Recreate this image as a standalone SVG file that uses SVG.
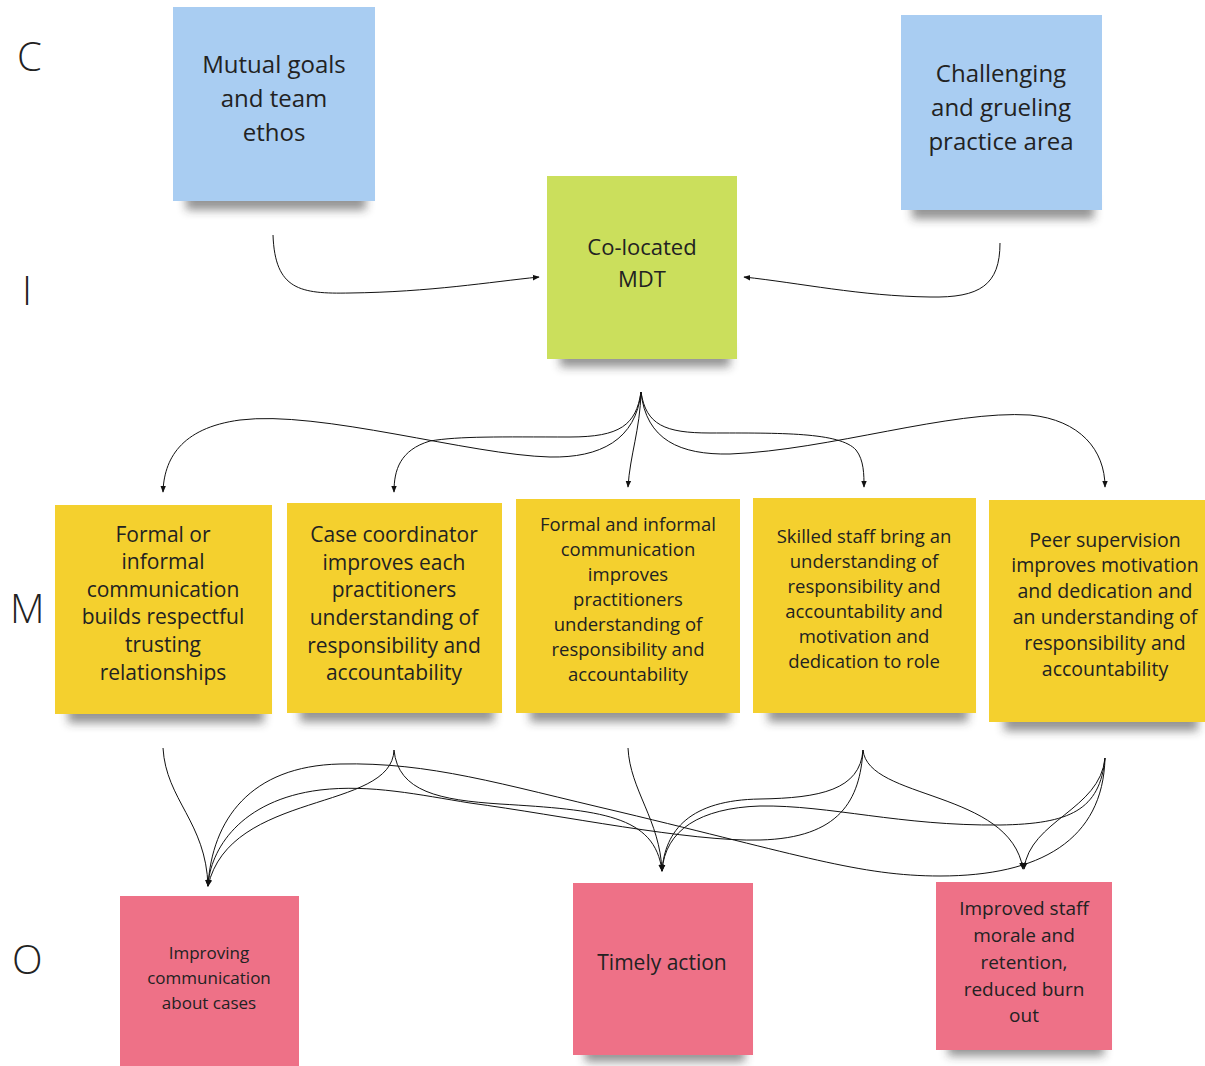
<svg xmlns="http://www.w3.org/2000/svg" width="1205" height="1066" viewBox="0 0 1205 1066">
  <style>
    .lbl { font-family: "Open Sans", "DejaVu Sans", sans-serif; fill: #222; text-anchor: middle; }
    .row { font-family: "Open Sans", "DejaVu Sans", sans-serif; fill: #222; font-size: 40px; font-weight: 300; }
    .blue { fill: #a9cdf2; }
    .green { fill: #cbdf5c; }
    .yellow { fill: #f4d02e; }
    .pink { fill: #ee7187; }
    .shadow { fill: #2a2a2a; opacity: 0.5; filter: url(#soft); }
    .wire { fill: none; stroke: #111; stroke-width: 1; marker-end: url(#tip); }
  </style>
  <defs>
    <filter id="soft" x="-20%" y="-100%" width="140%" height="300%">
      <feGaussianBlur stdDeviation="5"/>
    </filter>
    <marker id="tip" viewBox="0 0 10 10" refX="9" refY="5" markerWidth="7" markerHeight="7" orient="auto" markerUnits="userSpaceOnUse">
      <path d="M0,1 L10,5 L0,9 z" fill="#111"/>
    </marker>
  </defs>

  <rect width="1205" height="1066" fill="#ffffff"/>

  <!-- row letters -->
  <text class="row" x="17" y="71">C</text>
  <text class="row" x="22" y="305">I</text>
  <text class="row" x="10" y="623">M</text>
  <text class="row" x="12" y="974">O</text>

  <!-- context -->
  <g id="mutual-goals">
    <rect class="shadow" x="186" y="186" width="180" height="24"/>
    <rect class="blue" x="173" y="7" width="202" height="194"/>
    <text class="lbl" font-size="24"><tspan x="274" y="73">Mutual goals</tspan><tspan x="274" y="107">and team</tspan><tspan x="274" y="141">ethos</tspan></text>
  </g>
  <g id="challenging-area">
    <rect class="shadow" x="912" y="195" width="182" height="24"/>
    <rect class="blue" x="901" y="15" width="201" height="195"/>
    <text class="lbl" font-size="24"><tspan x="1001" y="82">Challenging</tspan><tspan x="1001" y="116">and grueling</tspan><tspan x="1001" y="150">practice area</tspan></text>
  </g>

  <!-- intervention -->
  <g id="co-located-mdt">
    <rect class="shadow" x="560" y="343" width="170" height="24"/>
    <rect class="green" x="547" y="176" width="190" height="183"/>
    <text class="lbl" font-size="22"><tspan x="642" y="255">Co-located</tspan><tspan x="642" y="287">MDT</tspan></text>
  </g>

  <!-- mechanisms -->
  <g id="m-trusting-relationships">
    <rect class="shadow" x="68" y="699" width="196" height="24"/>
    <rect class="yellow" x="55" y="505" width="217" height="209"/>
    <text class="lbl" font-size="21"><tspan x="163" y="542">Formal or</tspan><tspan x="163" y="569">informal</tspan><tspan x="163" y="597">communication</tspan><tspan x="163" y="624">builds respectful</tspan><tspan x="163" y="652">trusting</tspan><tspan x="163" y="680">relationships</tspan></text>
  </g>
  <g id="m-case-coordinator">
    <rect class="shadow" x="300" y="698" width="194" height="24"/>
    <rect class="yellow" x="287" y="503" width="215" height="210"/>
    <text class="lbl" font-size="21"><tspan x="394" y="542">Case coordinator</tspan><tspan x="394" y="570">improves each</tspan><tspan x="394" y="597">practitioners</tspan><tspan x="394" y="625">understanding of</tspan><tspan x="394" y="653">responsibility and</tspan><tspan x="394" y="680">accountability</tspan></text>
  </g>
  <g id="m-formal-informal">
    <rect class="shadow" x="530" y="698" width="200" height="24"/>
    <rect class="yellow" x="516" y="499" width="224" height="214"/>
    <text class="lbl" font-size="18.5"><tspan x="628" y="531">Formal and informal</tspan><tspan x="628" y="556">communication</tspan><tspan x="628" y="581">improves</tspan><tspan x="628" y="606">practitioners</tspan><tspan x="628" y="631">understanding of</tspan><tspan x="628" y="656">responsibility and</tspan><tspan x="628" y="681">accountability</tspan></text>
  </g>
  <g id="m-skilled-staff">
    <rect class="shadow" x="768" y="698" width="200" height="24"/>
    <rect class="yellow" x="753" y="498" width="223" height="215"/>
    <text class="lbl" font-size="18.5"><tspan x="864" y="543">Skilled staff bring an</tspan><tspan x="864" y="568">understanding of</tspan><tspan x="864" y="593">responsibility and</tspan><tspan x="864" y="618">accountability and</tspan><tspan x="864" y="643">motivation and</tspan><tspan x="864" y="668">dedication to role</tspan></text>
  </g>
  <g id="m-peer-supervision">
    <rect class="shadow" x="1004" y="707" width="194" height="24"/>
    <rect class="yellow" x="989" y="500" width="216" height="222"/>
    <text class="lbl" font-size="19.5"><tspan x="1105" y="547">Peer supervision</tspan><tspan x="1105" y="572">improves motivation</tspan><tspan x="1105" y="598">and dedication and</tspan><tspan x="1105" y="624">an understanding of</tspan><tspan x="1105" y="650">responsibility and</tspan><tspan x="1105" y="676">accountability</tspan></text>
  </g>

  <!-- outcomes -->
  <g id="o-communication">
    <rect class="pink" x="120" y="896" width="179" height="175"/>
    <text class="lbl" font-size="17"><tspan x="209" y="959">Improving</tspan><tspan x="209" y="984">communication</tspan><tspan x="209" y="1009">about cases</tspan></text>
  </g>
  <g id="o-timely-action">
    <rect class="shadow" x="585" y="1040" width="160" height="22"/>
    <rect class="pink" x="573" y="883" width="180" height="172"/>
    <text class="lbl" font-size="21"><tspan x="662" y="970">Timely action</tspan></text>
  </g>
  <g id="o-staff-morale">
    <rect class="shadow" x="948" y="1034" width="156" height="22"/>
    <rect class="pink" x="936" y="882" width="176" height="168"/>
    <text class="lbl" font-size="19"><tspan x="1024" y="915">Improved staff</tspan><tspan x="1024" y="942">morale and</tspan><tspan x="1024" y="969">retention,</tspan><tspan x="1024" y="996">reduced burn</tspan><tspan x="1024" y="1022">out</tspan></text>
  </g>

  <!-- connectors -->
  <g id="connectors">
    <!-- context into intervention -->
    <path class="wire" d="M273,235 C275,290 300,294 350,293 C430,292 490,282 539,277"/>
    <path class="wire" d="M1000,243 C1000,285 980,298 930,297 C860,296 800,283 744,277"/>

    <!-- intervention fan-out -->
    <path class="wire" d="M641,392 C636,440 600,458 550,457 C470,455 320,410 240,420 C180,428 164,460 163,492"/>
    <path class="wire" d="M641,392 C636,425 620,437 570,437 C500,437 460,436 430,441 C400,450 394,470 394,492"/>
    <path class="wire" d="M641,392 C640,430 630,455 628,487"/>
    <path class="wire" d="M641,392 C646,425 665,433 710,433 C780,433 840,432 856,450 C864,460 864,475 864,487"/>
    <path class="wire" d="M641,392 C646,440 680,455 730,454 C830,450 950,410 1030,415 C1080,420 1105,450 1105,487"/>

    <!-- mechanisms into outcomes -->
    <path class="wire" d="M163,748 C166,800 206,822 208,886"/>
    <path class="wire" d="M394,750 C392,812 230,790 208,886"/>
    <path class="wire" d="M863,750 C860,800 840,838 760,840 C690,842 560,815 470,803 C420,795 370,784 320,790 C240,800 210,850 208,886"/>
    <path class="wire" d="M1105,758 C1103,840 1040,876 940,876 C860,876 800,855 620,812 C500,784 430,762 340,764 C250,766 212,820 208,886"/>
    <path class="wire" d="M394,750 C398,792 440,800 500,804 C600,810 655,815 662,871"/>
    <path class="wire" d="M628,748 C630,790 660,820 662,871"/>
    <path class="wire" d="M863,750 C860,790 820,798 760,799 C690,800 665,830 662,871"/>
    <path class="wire" d="M1105,758 C1100,810 1070,824 1000,825 C900,826 830,805 760,806 C700,808 665,830 662,871"/>
    <path class="wire" d="M863,750 C868,800 1010,790 1023,869"/>
    <path class="wire" d="M1105,758 C1100,810 1030,820 1024,869"/>
  </g>
</svg>
